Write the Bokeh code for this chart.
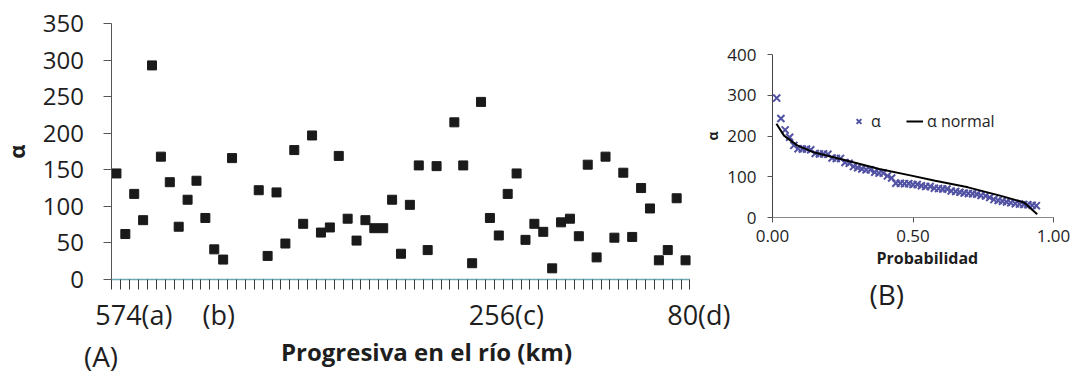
from bokeh.plotting import figure
from bokeh.layouts import row
from bokeh.models import (Range1d, FixedTicker, Title, Label, Legend, LegendItem,
                          NumeralTickFormatter, ColumnDataSource, LinearAxis)
from bokeh.transform import dodge
from bokeh.embed import file_html
from bokeh.resources import INLINE

# ---------------- data: panel (A) ----------------
station = [0, 1, 2, 3, 4, 5, 6, 7, 8, 9, 10, 11, 12, 13,
           16, 17, 18, 19, 20, 21, 22, 23, 24, 25, 26, 27, 28, 29, 30,
           31, 32, 33, 34, 35, 36, 38, 39, 40, 41, 42, 43, 44, 45, 46,
           47, 48, 49, 50, 51, 52, 53, 54, 55, 56, 57, 58, 59, 60, 61,
           62, 63, 64]
alpha = [145, 62, 117, 81, 293, 168, 133, 72, 109, 135, 84, 41, 27, 166,
         122, 32, 119, 49, 177, 76, 197, 64, 71, 169, 83, 53, 81, 70, 70,
         109, 35, 102, 156, 40, 155, 215, 156, 22, 243, 84, 60, 117, 145, 54,
         76, 65, 15, 78, 83, 59, 157, 30, 168, 57, 146, 58, 125, 97, 26,
         40, 111, 26]
xtick_pos = [2.46, 12.0, 44.35, 66.0]
xtick_txt = ["574(a)", "(b)", "256(c)", "80(d)"]
ytick_a = [0, 50, 100, 150, 200, 250, 300, 350]
n_cat = 65

# ---------------- data: panel (B) ----------------
prob = [0.015, 0.030, 0.045, 0.061, 0.076, 0.091, 0.106, 0.121, 0.136, 0.152,
        0.167, 0.182, 0.197, 0.212, 0.227, 0.242, 0.258, 0.273, 0.288, 0.303,
        0.318, 0.333, 0.348, 0.364, 0.379, 0.394, 0.409, 0.424, 0.439, 0.455,
        0.470, 0.485, 0.500, 0.515, 0.530, 0.545, 0.561, 0.576, 0.591, 0.606,
        0.621, 0.636, 0.652, 0.667, 0.682, 0.697, 0.712, 0.727, 0.742, 0.758,
        0.773, 0.788, 0.803, 0.818, 0.833, 0.848, 0.864, 0.879, 0.894, 0.909,
        0.924, 0.939]
alpha_sorted = [293, 243, 215, 197, 177, 169, 168, 168, 166, 157,
                156, 156, 155, 146, 145, 145, 135, 133, 125, 122,
                119, 117, 117, 111, 109, 109, 102, 97, 84, 84,
                83, 83, 81, 81, 78, 76, 76, 72, 71, 70,
                70, 65, 64, 62, 60, 59, 58, 57, 54, 53,
                49, 44, 42, 40, 38, 36, 34, 33, 32, 31,
                30, 29]
prob_norm = [0.014, 0.041, 0.088, 0.146, 0.263, 0.380, 0.486, 0.579,
             0.696, 0.813, 0.895, 0.942]
alpha_norm = [230, 201, 177, 160, 140, 119, 104, 90, 74, 53, 37, 8]
xtick_b = [0.0, 0.5, 1.0]
ytick_b = [0, 100, 200, 300, 400]

FONT = "Open Sans"
TXT = "#1e1e1e"

# ================= panel (A) =================
# the frame fills the whole canvas; axes sit at fixed data locations
p1 = figure(width=740, height=378, output_backend="svg", toolbar_location=None,
            x_range=Range1d(-12.539, 70.68), y_range=Range1d(-135.9, 381.9),
            min_border=0, x_axis_location=None, y_axis_location=None)
p1.frame_align = False
p1.grid.visible = False
p1.outline_line_color = None

src = ColumnDataSource(dict(station=station, alpha=alpha))
p1.scatter(x=dodge("station", 0.5, range=p1.x_range), y="alpha", source=src,
           marker="square", size=9, fill_color="#1a1a1a", line_color="#1a1a1a")

ya = LinearAxis(fixed_location=0, bounds=(0, 350), ticker=FixedTicker(ticks=ytick_a))
ya.major_tick_out = 8
ya.major_tick_in = 0
ya.minor_tick_line_color = None
ya.axis_line_color = "#555555"
ya.major_tick_line_color = "#555555"
ya.major_label_text_font = FONT
ya.major_label_text_font_size = "24px"
ya.major_label_text_color = TXT
ya.major_label_standoff = 20
ya.axis_label = "α"
ya.axis_label_text_font = FONT
ya.axis_label_text_font_size = "22px"
ya.axis_label_text_font_style = "bold"
ya.axis_label_text_color = TXT
ya.axis_label_standoff = 8
p1.add_layout(ya, "left")

# axis line + category tick marks
xa = LinearAxis(fixed_location=0, bounds=(0, n_cat),
                ticker=FixedTicker(ticks=[], minor_ticks=list(range(n_cat + 1))))
xa.major_label_text_font_size = "0px"
xa.major_tick_line_color = None
xa.minor_tick_out = 10
xa.minor_tick_in = 0
xa.minor_tick_line_color = "#3a3a3a"
xa.axis_line_color = "#6aa8b4"
xa.axis_line_width = 1.5
p1.add_layout(xa, "below")

# station labels
xl = LinearAxis(fixed_location=0, bounds=(0, n_cat + 1),
                ticker=FixedTicker(ticks=xtick_pos),
                major_label_overrides={k: v for k, v in zip(xtick_pos, xtick_txt)})
xl.axis_line_color = None
xl.major_tick_line_color = None
xl.minor_tick_line_color = None
xl.major_tick_out = 0
xl.major_tick_in = 0
xl.major_label_text_font = FONT
xl.major_label_text_font_size = "27px"
xl.major_label_text_color = TXT
xl.major_label_standoff = 17
p1.add_layout(xl, "below")

p1.add_layout(Label(x=426, y=27, x_units="screen", y_units="screen",
                    text="Progresiva en el río (km)", text_align="center",
                    text_baseline="alphabetic", text_font=FONT, text_font_size="24px",
                    text_font_style="bold", text_color=TXT))
p1.add_layout(Label(x=100.5, y=23, x_units="screen", y_units="screen", text="(A)",
                    text_align="center", text_baseline="alphabetic", text_font=FONT,
                    text_font_size="28px", text_color=TXT))

# ================= panel (B) =================
p2 = figure(width=381, height=378, output_backend="svg", toolbar_location=None,
            x_range=Range1d(0, 1), y_range=Range1d(0, 400),
            min_border_left=68, min_border_right=28, min_border_top=54,
            min_border_bottom=161)
p2.frame_align = False
p2.margin = (0, 0, 0, -40)
p2.grid.visible = False
p2.outline_line_color = None
p2.background_fill_color = None
p2.border_fill_color = None

r_sc = p2.scatter(prob, alpha_sorted, marker="x", size=10, line_color="#5252a4",
                  line_width=2)
r_ln = p2.line(prob_norm, alpha_norm, line_color="black", line_width=2)

xb = p2.xaxis[0]
xb.ticker = FixedTicker(ticks=xtick_b)
xb.formatter = NumeralTickFormatter(format="0.00")
xb.major_tick_out = 5
xb.major_tick_in = 0
xb.minor_tick_line_color = None
xb.axis_line_color = "#8a8a8a"
xb.major_tick_line_color = "#555555"
xb.major_label_text_font = FONT
xb.major_label_text_font_size = "17px"
xb.major_label_text_color = TXT
xb.major_label_standoff = 7

yb = p2.yaxis[0]
yb.ticker = FixedTicker(ticks=ytick_b)
yb.major_tick_out = 5
yb.major_tick_in = 0
yb.minor_tick_line_color = None
yb.axis_line_color = "#444444"
yb.major_tick_line_color = "#555555"
yb.major_label_text_font = FONT
yb.major_label_text_font_size = "17px"
yb.major_label_text_color = TXT
yb.major_label_standoff = 11
yb.axis_label = "α"
yb.axis_label_text_font = FONT
yb.axis_label_text_font_size = "14px"
yb.axis_label_text_font_style = "bold"
yb.axis_label_text_color = TXT
yb.axis_label_standoff = 2

t2 = Title(text="Probabilidad", align="left", offset=104, text_font=FONT,
           text_font_size="16px", text_font_style="bold", text_color=TXT, standoff=0)
p2.add_layout(t2, "below")
t3 = Title(text="(B)", align="left", offset=97, text_font=FONT,
           text_font_size="28px", text_font_style="normal", text_color=TXT, standoff=8)
p2.add_layout(t3, "below")

leg = Legend(items=[LegendItem(label="α", renderers=[r_sc]),
                    LegendItem(label="α normal", renderers=[r_ln])],
             orientation="horizontal", location=(78, 85), padding=0, margin=0,
             spacing=15, label_standoff=4, glyph_width=17, glyph_height=20,
             border_line_color=None, background_fill_alpha=0,
             label_text_font=FONT, label_text_font_size="16px", label_text_color=TXT)
p2.add_layout(leg)

layout = row(p1, p2)
open("out.html", "w").write(file_html(layout, INLINE))
